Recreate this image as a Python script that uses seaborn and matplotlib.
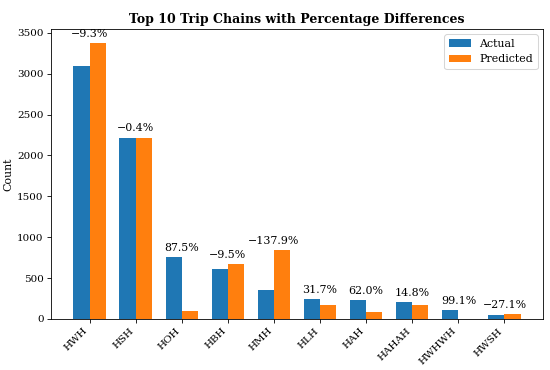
import numpy as np
import pandas as pd
import matplotlib
matplotlib.use("Agg")
import matplotlib.pyplot as plt
import seaborn as sns

chains = ['HWH', 'HSH', 'HOH', 'HBH', 'HMH', 'HLH', 'HAH', 'HAHAH', 'HWHWH', 'HWSH']
actual = [3090, 2210, 760, 610, 356, 246, 237, 203, 106, 48]
predicted = [3377, 2219, 95, 668, 847, 168, 90, 173, 1, 61]

plt.rcParams['font.family'] = ['DejaVu Serif']

df = pd.DataFrame({
    "chain": chains * 2,
    "count": actual + predicted,
    "type": ["Actual"] * len(chains) + ["Predicted"] * len(chains),
})

fig, ax = plt.subplots(figsize=(550 / 75, 370 / 75), dpi=75)
sns.barplot(data=df, x="chain", y="count", hue="type", width=0.7, gap=0,
            palette=['#1f77b4', '#ff7f0e'], saturation=1, errorbar=None, ax=ax)

# percentage difference labels above each pair
for i, (a, p) in enumerate(zip(actual, predicted)):
    pct = (a - p) / a * 100
    label = f"{pct:.1f}%".replace("-", "\u2212")
    ax.text(i, max(a, p) + 50, label, ha='center', va='bottom', fontsize=10.5)

ax.set_xlim(-0.835, 9.835)
ax.set_ylim(0, 3546)
ax.set_xlabel("")
ax.set_ylabel("Count", fontsize=10.5)
ax.set_title("Top 10 Trip Chains with Percentage Differences", fontweight='bold', fontsize=12)
ax.legend(title=None, loc='upper right', fontsize=10.5)
plt.setp(ax.get_xticklabels(), rotation=45, ha='right', fontsize=10)
plt.setp(ax.get_yticklabels(), fontsize=10)

fig.subplots_adjust(left=51 / 550, right=543 / 550, top=1 - 29 / 370, bottom=1 - 319 / 370)
plt.savefig("out.png", dpi=75)
plt.close()
